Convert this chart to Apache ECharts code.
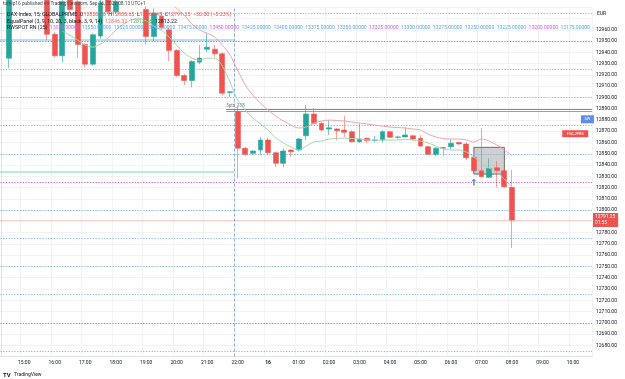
<!DOCTYPE html>
<html><head><meta charset="utf-8">
<script src="https://cdn.jsdelivr.net/npm/echarts@6/dist/echarts.min.js"></script>
<style>html,body{margin:0;padding:0;background:#fff}#c{width:625px;height:379px}</style>
</head><body><div id="c"></div>
<script>
const times = ['14:15','14:30','14:45','15:00','15:15','15:30','15:45','16:00','16:15','16:30','16:45','17:00','17:15','17:30','17:45','18:00','18:15','18:30','18:45','19:00','19:15','19:30','19:45','20:00','20:15','20:30','20:45','21:00','21:15','21:30','21:45','22:00','22:15','22:30','22:45','00:00','00:15','00:30','00:45','01:00','01:15','01:30','01:45','02:00','02:15','02:30','02:45','03:00','03:15','03:30','03:45','04:00','04:15','04:30','04:45','05:00','05:15','05:30','05:45','06:00','06:15','06:30','06:45','07:00','07:15','07:30','07:45','08:00','08:15','08:30','08:45','09:00','09:15','09:30','09:45','10:00','10:15','10:30'];
const opens = [null,12934.8,12990,12995,12990,12993,12987,12956,12937,12988,12985,12947,12929.5,12954.5,12990,12976,12985,12990,12986,12978,12954,12972,12960,12941.6,12919.4,12915,12931.3,12942.8,12942.8,12938.7,12904.4,12887.4,12854.8,12850.4,12853.3,12862.2,12851,12841.5,12853.3,12853.3,12866,12885.3,12877,12872,12872,12871,12869.6,12860.7,12863.7,12861.8,12862.2,12869.6,12864.6,12865,12866,12863.7,12856.3,12849.5,12855.5,12856.3,12860,12858.7,12846.8,12835,12829.1,12837.6,12835,12820.2];
const closes = [null,12990,12995,12990,12993,12987,12956,12937,12985,12978,12947,12929.5,12955.6,12984,12976,12985,12990,12986,12984,12954,12975,12962,12941.6,12919.4,12915,12931.8,12935,12944.6,12938.7,12903.7,12905,12855,12849.5,12852.4,12862.2,12851,12841.5,12852.4,12851.8,12863.1,12885.3,12877,12871.1,12873,12870.5,12869,12860.7,12863.1,12861.6,12862.2,12869.6,12864.6,12865,12866.7,12863.1,12856.9,12849.5,12855,12855,12859.3,12858.7,12846.5,12835,12829.6,12837,12835,12820.7,12791.25];
const lows = [null,12926,12984,12986,12985,12984,12951,12935,12931,12975,12935,12927,12928,12952,12974,12974,12982,12984,12981,12947,12950,12960,12932,12918,12911,12909,12929.5,12940,12936,12902,12900.5,12828,12848,12849,12849,12849,12838.2,12838,12847.4,12852,12862.2,12876,12870,12866.7,12862,12865,12860,12859.5,12859.5,12860,12860,12864,12863,12864.5,12862,12856,12849,12848,12848,12854,12858,12844.4,12834,12829,12828.4,12820,12820,12766.45];
const highs = [null,12995,13000,13002,12998,12996,12990,12958,12990,12990,12988,12948,12957,12990,12995,12990,12995,12998,12992,12981,12979,12976,12962,12943,12921,12933,12946.5,12957,12946.7,12940,12905.2,12893,12856,12853,12865,12864,12852,12855,12854,12864,12893.3,12890.7,12878,12880,12873,12883.6,12871,12877,12864.5,12866,12871,12870.5,12866,12873.5,12867,12866.5,12857,12856,12856,12862.8,12860.5,12860,12847.5,12872.6,12846,12843.6,12836,12835.65];
const slowLine = [null,null,null,null,null,null,null,null,null,null,null,null,null,null,null,null,null,null,null,12990,12989,12987,12985,12979,12973,12965,12960,12957,12953.5,12946.4,12937.6,12924.3,12911,12902,12895,12888.8,12883.5,12879,12875.5,12872.9,12873.7,12877.3,12879,12879.9,12879.5,12879,12878.2,12877.3,12876.4,12875.5,12874.6,12873.7,12873.3,12872.9,12872,12871.1,12867.5,12864.9,12863.5,12863.1,12863.1,12862.2,12860.4,12863.1,12861.3,12857.8,12853.4,12848.3];
const fastLine = [null,null,null,null,null,null,null,null,12958.8,12955.3,12950.9,12946.4,12944.7,12947.3,12952.6,12959.7,12965,12968.6,12970.4,12967.7,12963.3,12959.7,12953.5,12946.4,12939.3,12934.9,12933.1,12934.9,12934.9,12927.8,12913.6,12897.7,12888.8,12881.7,12876.4,12871.1,12864,12859.6,12856,12853.4,12856.9,12860.4,12861.3,12863.1,12863.5,12864,12863.5,12863.1,12862.2,12862.2,12862.2,12862.2,12862.2,12862.7,12862.2,12861.3,12859.6,12856.9,12854.2,12853.4,12853.4,12851.6,12847.1,12841.8,12837.4,12833.8,12827.6,12820.5];
const roundLevels = [12975,12950,12925,12900,12875,12850,12825,12800,12775,12750,12725,12700,12675];
const purpleLevels = [12950,12825,12700];
const rnLegendValues = [13575,13550,13525,13500,13475,13450,13425,13400,13375,13350,13325,13300,13275,13250,13225,13200,13175];
const rnLegendPurple = [13575,13450,13325,13200];
const lastPrice = 12791.25;
const countdown = '01:55';
const drawnLineBlue = 12889.6;
const drawnLineRed = 12888.1;
const prevBlue = 12951.5;
const prevGreen = 12834;
const boxRange = {x0: 62, x1: 66, top: 12855.7, bottom: 12832};
const arrowAt = [62, 12825];
const sessionBreak = 30.5;
const legendOHLC = {O:'12820.20', H:'12835.65', L:'12766.45', C:'12791.25', chg:'−30.00 (−0.23%)'};
const panelValues = ['12846.32','12813.06','12813.22'];

const F = 'Roboto, "Liberation Sans", sans-serif';
const UP = '#26a69a', DN = '#ef5350';
const FS = 5.3;
const chart = echarts.init(document.getElementById('c'), null, {renderer:'canvas'});

const candleData = opens.map((o,i)=> o==null ? '-' : [o, closes[i], lows[i], highs[i]]);
const isHour = (i, v) => v.endsWith(':00');
const xMin = -0.5, xMax = times.length - 0.5;

const levelLines = roundLevels.map(v => ({
  yAxis: v,
  lineStyle: {color: purpleLevels.includes(v) ? '#c760d6' : '#86b9ee', type: [1.2, 1.6], width: 1}
}));

const rnRich = rnLegendValues.map(v => `{${rnLegendPurple.includes(v)?'p':'b'}|${v.toFixed(5)}}`).join('{s|  }') + '{b|...}';
const txt = (fill) => ({fill, fontSize: FS, fontFamily: F});

const option = {
  animation: false,
  backgroundColor: '#ffffff',
  grid: {left: -2.41, right: 33, top: 7.3, bottom: 22.4, outerBoundsMode: 'none', containLabel: false},
  xAxis: [{
    type: 'category', data: times, boundaryGap: true,
    axisLine: {show: true, lineStyle: {color: '#e0e3eb'}},
    axisTick: {show: false},
    axisLabel: {interval: isHour, margin: 4, fontSize: 5, color: '#131722', fontFamily: F,
      formatter: v => v === '00:00' ? '{d|16}' : v,
      rich: {d: {fontWeight: 'bold', fontSize: 5, color: '#131722', fontFamily: F}}},
    splitLine: {show: true, interval: isHour, lineStyle: {color: '#f2f3f6', width: 1}}
  }, {
    type: 'value', min: xMin, max: xMax, show: false
  }],
  yAxis: {
    type: 'value', position: 'right', min: 12670, max: 12980, interval: 10, scale: true,
    axisLine: {show: true, lineStyle: {color: '#e0e3eb'}},
    axisTick: {show: false},
    axisLabel: {margin: 4, fontSize: 5, color: '#131722', fontFamily: F,
      formatter: v => (v >= 12970 || v <= 12670 || v === 12790) ? '' : v.toFixed(2)},
    splitLine: {show: true, lineStyle: {color: '#f2f3f6', width: 1}}
  },
  series: [
    {
      type: 'line', xAxisIndex: 1, data: [], silent: true, z: 1,
      markLine: {
        silent: true, symbol: ['none','none'], z: 1, animation: false,
        label: {show: false},
        data: [
          ...levelLines,
          {xAxis: sessionBreak, lineStyle: {color: '#8fb2e3', type: [3, 2], width: 1}},
          [{coord: [xMin, prevBlue], lineStyle: {color: '#a9d0f5', type: 'solid', width: 1.5}}, {coord: [sessionBreak, prevBlue]}],
          [{coord: [xMin, prevGreen], lineStyle: {color: '#a8e6c3', type: 'solid', width: 1.5}}, {coord: [sessionBreak, prevGreen]}],
          [{coord: [29.5, drawnLineBlue], lineStyle: {color: '#5b8fd8', type: 'solid', width: 1},
            label: {show: true, position: 'insideStartTop', formatter: '5pts_188', fontSize: 4.5, color: '#787b86', fontFamily: F, distance: [0, 1]}},
           {coord: [xMax, drawnLineBlue]}],
          [{coord: [29.5, drawnLineRed], lineStyle: {color: '#c98a93', type: 'solid', width: 1}}, {coord: [xMax, drawnLineRed]}],
          {yAxis: lastPrice, lineStyle: {color: 'rgba(239,83,80,0.28)', type: 'solid', width: 1},
            label: {show: true, position: 'end', distance: 1, formatter: lastPrice.toFixed(2) + '\n' + countdown,
              backgroundColor: DN, color: '#fff', fontSize: 4.8, lineHeight: 6, padding: [1, 3, 1, 2], fontFamily: F}}
        ]
      },
      markArea: {
        silent: true,
        itemStyle: {color: 'rgba(150,150,150,0.45)', borderColor: '#6b6b6b', borderWidth: 1},
        data: [[{coord: [boxRange.x0, boxRange.top]}, {coord: [boxRange.x1, boxRange.bottom]}]]
      },
      markPoint: {
        silent: true,
        data: [
          {coord: arrowAt, symbol: 'path://M5,0 L10,5 L6.5,5 L6.5,12 L3.5,12 L3.5,5 L0,5 Z', symbolSize: [5, 7],
            itemStyle: {color: '#5b8def'}, label: {show: false}},
          {coord: [76.9, 12880.6], symbol: 'rect', symbolSize: [13, 8], itemStyle: {color: '#5b8def'},
            label: {show: true, position: 'inside', formatter: 'SW', color: '#fff', fontSize: 4, fontFamily: F}},
          {coord: [75.3, 12867.8], symbol: 'rect', symbolSize: [26, 7], itemStyle: {color: DN},
            label: {show: true, position: 'inside', formatter: 'FGCJPRS', color: '#fff', fontSize: 4, fontFamily: F}}
        ]
      }
    },
    {
      type: 'candlestick', data: candleData, z: 3, clip: true, barWidth: '70%',
      itemStyle: {color: UP, color0: DN, borderColor: 'rgba(38,166,154,0.6)', borderColor0: 'rgba(239,83,80,0.55)', borderWidth: 1}
    },
    {
      type: 'line', data: slowLine, z: 4, symbol: 'none', clip: true, smooth: 0.3,
      lineStyle: {color: '#f4a3a3', width: 1}
    },
    {
      type: 'line', data: fastLine, z: 4, symbol: 'none', clip: true, smooth: 0.3,
      lineStyle: {color: '#a5d9aa', width: 1}
    }
  ],
  graphic: [
    {type: 'text', left: 3, top: 1, z: 100, style: {text: 'turnip16 published on TradingView.com, Sep 16, 2022 08:13 UTC+1', fontSize: 4.8, fill: '#434651', fontFamily: F}},
    {type: 'text', left: 7, top: 12, z: 100, style: {
      text: `{n|DAX Index, 15, GLOBALPRIME  }{k|O}{v|${legendOHLC.O}  }{k|H}{v|${legendOHLC.H}  }{k|L}{v|${legendOHLC.L}  }{k|C}{v|${legendOHLC.C}  ${legendOHLC.chg}}`,
      rich: {n: txt('#131722'), k: txt('#131722'), v: txt(DN)}}},
    {type: 'text', left: 7, top: 18.7, z: 100, style: {
      text: `{n|EqualPanel (3, 9, 10, 20, 3, black, 3, 9, 14)  }{r|${panelValues[0]}  }{g|${panelValues[1]}  }{k|${panelValues[2]}}`,
      rich: {n: txt('#131722'), r: txt('#f06a6a'), g: txt('#4caf50'), k: txt('#131722')}}},
    {type: 'text', left: 7, top: 25.4, z: 100, style: {
      text: `{n|RWSPOT RN (25)  }` + rnRich,
      rich: {n: txt('#131722'), b: {fill: '#5ea6ee', fontSize: 5, fontFamily: F}, p: {fill: '#cf5fdc', fontSize: 5, fontFamily: F}, s: {fontSize: 5, fontFamily: F}}}},
    {type: 'text', left: 597, top: 11.5, z: 100, style: {text: 'EUR', fontSize: 5, fill: '#131722', fontFamily: F}},
    {type: 'text', left: 3, top: 369, z: 100, style: {text: '{l|TV} {t|TradingView}',
      rich: {l: {fontSize: 6, fontWeight: 'bold', fill: '#131722', fontFamily: F}, t: {fontSize: 5, fill: '#131722', fontFamily: F}}}}
  ]
};
chart.setOption(option);
</script></body></html>
